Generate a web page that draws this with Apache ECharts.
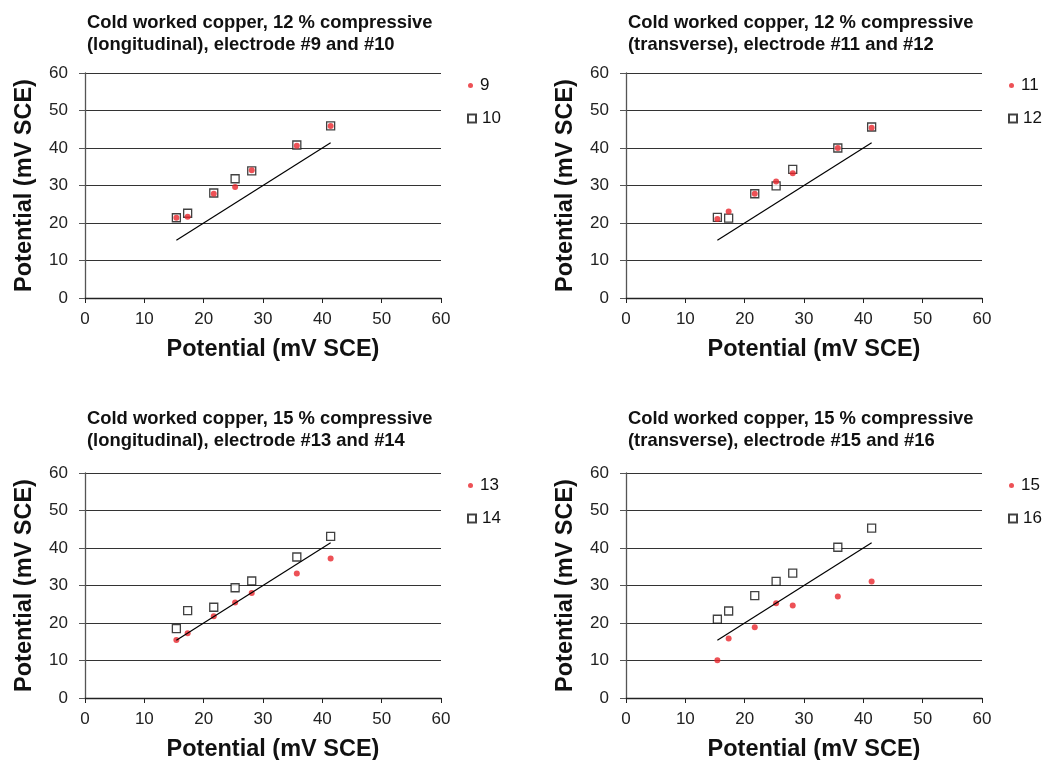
<!DOCTYPE html>
<html><head><meta charset="utf-8">
<script src="https://cdn.jsdelivr.net/npm/echarts@6/dist/echarts.min.js"></script>
<style>html,body{margin:0;padding:0;background:#fff}#c{width:1045px;height:760px}</style>
</head><body><div id="c"></div>
<script>
// Shared x values (mV SCE)
const xVals = [15.4, 17.3, 21.7, 25.3, 28.1, 35.7, 41.4];
// Reference line y = x endpoints
const refLine = [15.4, 41.4];

const titles = [
  "Cold worked copper, 12 % compressive\n(longitudinal), electrode #9 and #10",
  "Cold worked copper, 12 % compressive\n(transverse), electrode #11 and #12",
  "Cold worked copper, 15 % compressive\n(longitudinal), electrode #13 and #14",
  "Cold worked copper, 15 % compressive\n(transverse), electrode #15 and #16"
];
const dotNames = ["9", "11", "13", "15"];
const squareNames = ["10", "12", "14", "16"];

const s9  = [21.4, 21.7, 27.8, 29.6, 34.1, 40.6, 45.9];
const s10 = [21.4, 22.6, 28.0, 31.8, 33.9, 40.8, 45.9];
const s11 = [21.1, 23.1, 27.8, 31.1, 33.3, 40.0, 45.4];
const s12 = [21.5, 21.3, 27.8, 29.9, 34.3, 40.0, 45.6];
const s13 = [15.5, 17.3, 21.8, 25.5, 28.0, 33.2, 37.2];
const s14 = [18.5, 23.3, 24.2, 29.4, 31.2, 37.6, 43.1];
const s15 = [10.1, 15.9, 18.9, 25.3, 24.7, 27.1, 31.1];
const s16 = [21.0, 23.2, 27.3, 31.1, 33.3, 40.2, 45.3];

const dotSeries = [s9, s11, s13, s15];
const squareSeries = [s10, s12, s14, s16];

const axisTicks = [0, 10, 20, 30, 40, 50, 60];
const axisName = "Potential (mV SCE)";

const lefts = [85, 626, 85, 626];
const tops = [73, 73, 473, 473];
const titleTops = [12, 12, 408, 408];
const W = 356, H = 225;

const font = "'Liberation Sans', Arial, sans-serif";
const RED = '#e8262c';
const grids = [], xAxes = [], yAxes = [], series = [], titleArr = [], legends = [];
for (let i = 0; i < 4; i++) {
  grids.push({left: lefts[i], top: tops[i], width: W, height: H, containLabel: false, outerBoundsMode: 'none'});
  titleArr.push({
    text: titles[i], left: lefts[i] + 2, top: titleTops[i], padding: 0,
    textStyle: {fontFamily: font, fontSize: 18.4, fontWeight: 'bold', color: '#111', lineHeight: 22}
  });
  xAxes.push({
    gridIndex: i, type: 'value', min: axisTicks[0], max: axisTicks[axisTicks.length - 1], interval: 10,
    name: axisName, nameLocation: 'middle', nameGap: 40,
    nameTextStyle: {fontFamily: font, fontSize: 23.5, fontWeight: 'bold', color: '#111', padding: [0, 0, 0, 20]},
    axisLine: {show: true, lineStyle: {color: '#222', width: 1.3}},
    axisTick: {show: true, length: 5, lineStyle: {color: '#222'}},
    axisLabel: {fontFamily: font, fontSize: 17, color: '#222', margin: 13},
    splitLine: {show: false}
  });
  yAxes.push({
    gridIndex: i, type: 'value', min: axisTicks[0], max: axisTicks[axisTicks.length - 1], interval: 10,
    name: axisName, nameLocation: 'middle', nameGap: 48,
    nameTextStyle: {fontFamily: font, fontSize: 23.5, fontWeight: 'bold', color: '#111'},
    axisLine: {show: true, lineStyle: {color: '#555', width: 1.3}},
    axisTick: {show: true, length: 6, lineStyle: {color: '#555'}},
    axisLabel: {fontFamily: font, fontSize: 17, color: '#222', margin: 17},
    splitLine: {show: true, lineStyle: {color: '#333', width: 1}}
  });
  series.push({
    type: 'line', xAxisIndex: i, yAxisIndex: i, silent: true,
    data: refLine.map(v => [v, v]), symbol: 'none',
    lineStyle: {color: '#000', width: 1.2}
  });
  series.push({
    name: squareNames[i], type: 'scatter', xAxisIndex: i, yAxisIndex: i,
    data: xVals.map((x, k) => [x, squareSeries[i][k]]),
    symbol: 'rect', symbolSize: 8,
    itemStyle: {color: '#fff', borderColor: '#111', borderWidth: 1.3}
  });
  series.push({
    name: dotNames[i], type: 'scatter', xAxisIndex: i, yAxisIndex: i,
    data: xVals.map((x, k) => [x, dotSeries[i][k]]),
    symbol: 'circle', symbolSize: 6,
    itemStyle: {color: RED}
  });
  legends.push({
    data: [{name: dotNames[i], icon: 'circle'}],
    left: lefts[i] + W + 27, top: tops[i] + 4, padding: 0,
    itemWidth: 5, itemHeight: 5, itemGap: 0,
    textStyle: {fontFamily: font, fontSize: 17, color: '#111', padding: [0, 0, 0, 2]}
  });
  legends.push({
    data: [{name: squareNames[i], icon: 'rect'}],
    left: lefts[i] + W + 26, top: tops[i] + 37, padding: 0,
    itemWidth: 8, itemHeight: 8, itemGap: 0,
    textStyle: {fontFamily: font, fontSize: 17, color: '#111', padding: [0, 0, 0, 1]}
  });
}

const chart = echarts.init(document.getElementById('c'), null, {renderer: 'canvas'});
chart.setOption({
  animation: false,
  backgroundColor: '#fff',
  title: titleArr, grid: grids, xAxis: xAxes, yAxis: yAxes, legend: legends, series: series
});
</script></body></html>
